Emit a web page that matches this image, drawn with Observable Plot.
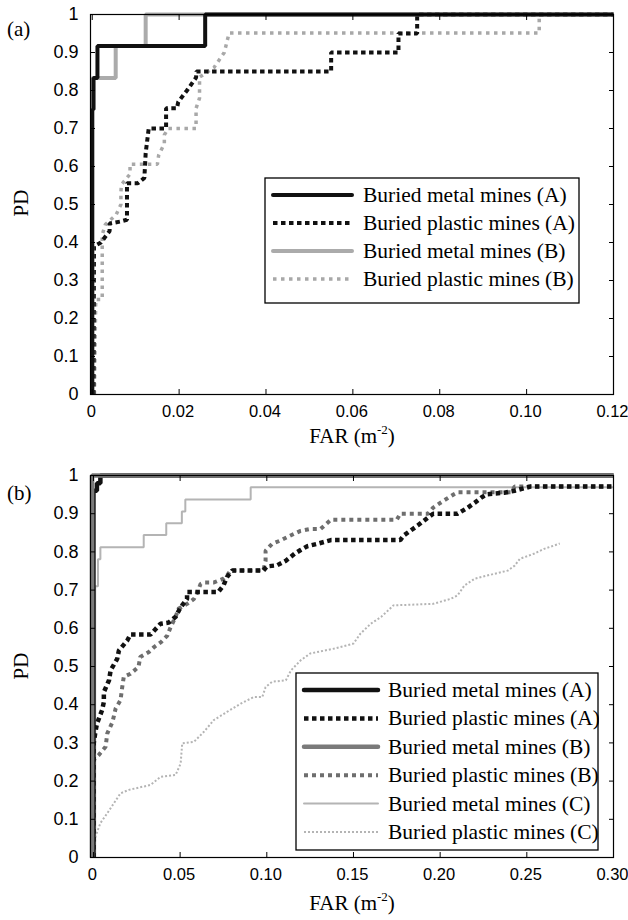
<!DOCTYPE html>
<html>
<head>
<meta charset="utf-8">
<script src="https://cdn.jsdelivr.net/npm/d3@7"></script>
<script src="https://cdn.jsdelivr.net/npm/@observablehq/plot@0.6"></script>
<style>
  html, body { margin:0; padding:0; background:#fff; }
  #wrap { position:relative; width:628px; height:920px; background:#fff; overflow:hidden; }
  .panel { position:absolute; left:0; }
  .tag { position:absolute; font-family:"Liberation Serif","Times New Roman",serif; font-size:21px; color:#000; }
  .xlab { position:absolute; font-family:"Liberation Serif","Times New Roman",serif; font-size:21px; color:#000; white-space:nowrap; transform:translateX(-50%); }
  .xlab sup { font-size:13px; vertical-align:9px; line-height:0; }
  .ylab { position:absolute; font-family:"Liberation Serif","Times New Roman",serif; font-size:21px; color:#000; transform:translate(-50%,-50%) rotate(-90deg); white-space:nowrap; }
  .legend { position:absolute; }
</style>
</head>
<body>
<div id="wrap">
  <div id="pa" class="panel" style="top:0"></div>
  <div id="pb" class="panel" style="top:455px"></div>
</div>
<script>
// ---------------- Panel (a) data ----------------
const aXTicks = [0, 0.02, 0.04, 0.06, 0.08, 0.10, 0.12];
const aXLabels = ["0", "0.02", "0.04", "0.06", "0.08", "0.10", "0.12"];
const yTicks = [0, 0.1, 0.2, 0.3, 0.4, 0.5, 0.6, 0.7, 0.8, 0.9, 1];
const yLabels = ["0", "0.1", "0.2", "0.3", "0.4", "0.5", "0.6", "0.7", "0.8", "0.9", "1"];

const aSeriesNames = ["Buried metal mines (A)", "Buried plastic mines (A)", "Buried metal mines (B)", "Buried plastic mines (B)"];

const aMetalA = [[0,0],[0,0.75],[0.0003,0.75],[0.0003,0.833],[0.0012,0.833],[0.0012,0.917],[0.026,0.917],[0.026,1],[0.12,1]];
const aMetalB = [[0,0],[0,0.833],[0.0054,0.833],[0.0054,0.917],[0.0123,0.917],[0.0123,1],[0.12,1]];
const aPlasticA = [[0.0003,0],[0.0004,0.39],[0.002,0.40],[0.004,0.43],[0.004,0.45],[0.0064,0.455],[0.008,0.46],[0.008,0.556],
  [0.0105,0.556],[0.012,0.57],[0.0123,0.635],[0.013,0.70],[0.017,0.70],[0.017,0.753],[0.0195,0.753],[0.0198,0.77],
  [0.0218,0.80],[0.0239,0.834],[0.024,0.85],[0.055,0.85],[0.055,0.90],[0.0705,0.90],[0.0705,0.95],[0.0748,0.95],[0.0748,1],[0.12,1]];
const aPlasticB = [[0.0005,0],[0.0008,0.25],[0.0023,0.25],[0.0023,0.42],[0.003,0.447],[0.0055,0.473],[0.0066,0.50],[0.0066,0.53],
  [0.0067,0.552],[0.0087,0.58],[0.0087,0.606],[0.015,0.606],[0.0153,0.63],[0.0166,0.66],[0.0166,0.683],[0.0175,0.70],
  [0.0239,0.70],[0.0239,0.753],[0.0247,0.78],[0.0247,0.835],[0.028,0.86],[0.0304,0.90],[0.0315,0.951],[0.1029,0.951],[0.1029,1],[0.12,1]];

// ---------------- Panel (b) data ----------------
const bXTicks = [0, 0.05, 0.10, 0.15, 0.20, 0.25, 0.30];
const bXLabels = ["0", "0.05", "0.10", "0.15", "0.20", "0.25", "0.30"];

const bSeriesNames = ["Buried metal mines (A)", "Buried plastic mines (A)", "Buried metal mines (B)", "Buried plastic mines (B)", "Buried metal mines (C)", "Buried plastic mines (C)"];

const bMetalA = [[0,0],[0,0.96],[0.002,0.96],[0.002,0.98],[0.004,0.98],[0.004,1],[0.3,1]];
const bMetalB = [[-0.0008,0],[-0.0008,1],[0.3,1]];
const bMetalC = [[0.001,0],[0.001,0.71],[0.0026,0.71],[0.0026,0.781],[0.004,0.781],[0.004,0.8125],[0.029,0.8125],[0.029,0.844],
  [0.042,0.844],[0.042,0.875],[0.051,0.875],[0.051,0.906],[0.053,0.906],[0.053,0.9375],[0.0907,0.9375],[0.0907,0.969],[0.3,0.969]];
const bPlasticA = [[0,0],[0,0.273],[0.0002,0.30],[0.001,0.325],[0.002,0.35],[0.005,0.386],[0.006,0.407],[0.006,0.433],[0.009,0.464],
  [0.0099,0.49],[0.0137,0.52],[0.0147,0.542],[0.0195,0.568],[0.0214,0.584],[0.033,0.584],[0.0387,0.612],[0.0435,0.615],
  [0.0474,0.63],[0.0503,0.655],[0.054,0.677],[0.054,0.695],[0.061,0.695],[0.072,0.695],[0.075,0.712],[0.077,0.734],[0.080,0.751],
  [0.098,0.751],[0.100,0.762],[0.106,0.765],[0.111,0.777],[0.116,0.795],[0.1195,0.805],[0.1234,0.815],[0.129,0.821],[0.137,0.831],
  [0.177,0.831],[0.179,0.843],[0.187,0.869],[0.193,0.89],[0.196,0.90],[0.210,0.90],[0.216,0.916],[0.220,0.929],[0.224,0.943],
  [0.227,0.951],[0.237,0.955],[0.243,0.96],[0.252,0.971],[0.3,0.971]];
const bPlasticB = [[0,0],[0,0.255],[0.003,0.268],[0.007,0.29],[0.008,0.325],[0.011,0.355],[0.0128,0.39],[0.0156,0.412],[0.0166,0.446],
  [0.0175,0.473],[0.0214,0.481],[0.026,0.499],[0.027,0.525],[0.032,0.538],[0.035,0.551],[0.039,0.564],[0.0426,0.581],[0.0445,0.603],
  [0.0474,0.63],[0.049,0.651],[0.054,0.664],[0.058,0.677],[0.060,0.695],[0.0618,0.716],[0.0637,0.72],[0.0695,0.72],[0.075,0.73],
  [0.077,0.738],[0.079,0.751],[0.098,0.751],[0.0993,0.777],[0.0993,0.803],[0.103,0.821],[0.108,0.83],[0.1137,0.843],[0.1195,0.855],
  [0.125,0.86],[0.131,0.86],[0.137,0.884],[0.175,0.884],[0.177,0.90],[0.193,0.90],[0.196,0.916],[0.202,0.934],[0.208,0.951],
  [0.21,0.956],[0.241,0.956],[0.243,0.971],[0.3,0.971]];
const bPlasticC = [[0,0],[0.0012,0.055],[0.004,0.09],[0.008,0.116],[0.0118,0.142],[0.0156,0.168],[0.0204,0.177],[0.033,0.19],
  [0.0387,0.211],[0.0474,0.216],[0.0503,0.246],[0.0512,0.299],[0.058,0.303],[0.0637,0.329],[0.0695,0.36],[0.077,0.381],[0.085,0.403],
  [0.0925,0.42],[0.0974,0.42],[0.0993,0.446],[0.103,0.46],[0.111,0.464],[0.114,0.49],[0.1195,0.516],[0.125,0.534],[0.139,0.547],
  [0.15,0.56],[0.154,0.586],[0.16,0.612],[0.166,0.63],[0.171,0.651],[0.173,0.66],[0.196,0.664],[0.206,0.677],[0.21,0.686],
  [0.214,0.712],[0.22,0.73],[0.227,0.738],[0.239,0.751],[0.243,0.764],[0.246,0.782],[0.254,0.795],[0.26,0.808],[0.266,0.817],[0.269,0.822]];

// ---------------- styles ----------------
const aStyles = [
  {stroke:"#111", strokeWidth:4, dash:null},
  {stroke:"#111", strokeWidth:4, dash:"4.5,3.5"},
  {stroke:"#ababab", strokeWidth:4, dash:null},
  {stroke:"#a8a8a8", strokeWidth:3.5, dash:"3.5,4.5"}
];
const bStyles = [
  {stroke:"#111", strokeWidth:4.5, dash:null},
  {stroke:"#111", strokeWidth:4.5, dash:"4.5,3.5"},
  {stroke:"#7a7a7a", strokeWidth:4.5, dash:null},
  {stroke:"#6e6e6e", strokeWidth:4, dash:"4,4"},
  {stroke:"#b4b4b4", strokeWidth:2, dash:null},
  {stroke:"#b4b4b4", strokeWidth:2, dash:"2,2"}
];

function seriesLine(data, s) {
  return Plot.line(data, {stroke: s.stroke, strokeWidth: s.strokeWidth, strokeDasharray: s.dash, strokeLinecap: "butt", strokeLinejoin: "miter"});
}

function axes(xTicks, xLabels) {
  const xl = new Map(xTicks.map((d, i) => [d, xLabels[i]]));
  const yl = new Map(yTicks.map((d, i) => [d, yLabels[i]]));
  return [
    Plot.axisX(xTicks, {anchor: "bottom", tickSize: 0, tickPadding: 11, fontSize: 16.5, dx: -1, tickFormat: d => xl.get(d), label: null}),
    Plot.axisX(xTicks, {anchor: "bottom", tickSize: -5, tickFormat: () => "", label: null}),
    Plot.axisX(xTicks, {anchor: "top", tickSize: -5, tickFormat: () => "", label: null}),
    Plot.axisY(yTicks, {anchor: "left", tickSize: 0, tickPadding: 12, fontSize: 18, tickFormat: d => yl.get(d), label: null}),
    Plot.axisY(yTicks, {anchor: "left", tickSize: -5, tickFormat: () => "", label: null}),
    Plot.axisY(yTicks, {anchor: "right", tickSize: -5, tickFormat: () => "", label: null})
  ];
}

const commonStyle = {fontFamily: "'Liberation Sans', Arial, sans-serif", fontSize: "17px", color: "#000", background: "transparent", overflow: "visible"};

const chartA = Plot.plot({
  width: 628, height: 455,
  marginLeft: 90, marginRight: 15, marginTop: 14, marginBottom: 61,
  x: {domain: [-0.0004, 0.12]},
  y: {domain: [0, 1]},
  style: commonStyle,
  marks: [
    seriesLine(aPlasticB, aStyles[3]),
    seriesLine(aPlasticA, aStyles[1]),
    seriesLine(aMetalB, aStyles[2]),
    seriesLine(aMetalA, aStyles[0]),
    Plot.frame({stroke: "#000", strokeWidth: 1.2}),
    ...axes(aXTicks, aXLabels)
  ]
});
document.getElementById("pa").appendChild(chartA);

const chartB = Plot.plot({
  width: 628, height: 465,
  marginLeft: 90, marginRight: 15, marginTop: 20, marginBottom: 63,
  x: {domain: [-0.0017, 0.3]},
  y: {domain: [0, 1]},
  style: commonStyle,
  marks: [
    seriesLine(bMetalC, bStyles[4]),
    seriesLine(bPlasticC, bStyles[5]),
    seriesLine(bPlasticB, bStyles[3]),
    seriesLine(bPlasticA, bStyles[1]),
    seriesLine(bMetalA, bStyles[0]),
    seriesLine(bMetalB, bStyles[2]),
    Plot.frame({stroke: "#000", strokeWidth: 1.2}),
    ...axes(bXTicks, bXLabels)
  ]
});
document.getElementById("pb").appendChild(chartB);

// ---------------- overlays: labels and legends ----------------
const wrap = document.getElementById("wrap");
function addHTML(cls, html, style) {
  const d = document.createElement("div");
  d.className = cls; d.innerHTML = html;
  Object.assign(d.style, style);
  wrap.appendChild(d);
  return d;
}
addHTML("tag", "(a)", {left: "7px", top: "17px"});
addHTML("tag", "(b)", {left: "7px", top: "481px"});
addHTML("xlab", "FAR (m<sup>-2</sup>)", {left: "352px", top: "424px"});
addHTML("xlab", "FAR (m<sup>-2</sup>)", {left: "352px", top: "891px"});
addHTML("ylab", "PD", {left: "21px", top: "203px"});
addHTML("ylab", "PD", {left: "21px", top: "666px"});

function legend(names, styles, box) {
  const svg = d3.create("svg")
    .attr("class", "legend")
    .attr("width", box.w + 2).attr("height", box.h + 2)
    .style("left", (box.x - 1) + "px").style("top", (box.y - 1) + "px");
  svg.append("rect").attr("x", 1).attr("y", 1).attr("width", box.w).attr("height", box.h)
    .attr("fill", "#fff").attr("stroke", "#000").attr("stroke-width", 1.3);
  names.forEach((name, i) => {
    const s = styles[i];
    const cy = 1 + box.row0 + i * box.step;
    svg.append("line").attr("x1", 1 + box.lx1).attr("x2", 1 + box.lx2).attr("y1", cy).attr("y2", cy)
      .attr("stroke", s.stroke).attr("stroke-width", s.strokeWidth)
      .attr("stroke-dasharray", s.dash).attr("stroke-linecap", s.dash ? "butt" : "round");
    svg.append("text").attr("x", 1 + box.tx).attr("y", cy).attr("dy", "0.33em")
      .attr("font-family", "'Liberation Serif', 'Times New Roman', serif").attr("font-size", box.fs)
      .attr("fill", "#000").text(name);
  });
  wrap.appendChild(svg.node());
}
legend(aSeriesNames, aStyles, {x: 265, y: 178, w: 314, h: 125, row0: 17, step: 28, lx1: 8, lx2: 87, tx: 98, fs: 21.5});
legend(bSeriesNames, bStyles, {x: 296, y: 673, w: 302, h: 177, row0: 17, step: 28.4, lx1: 8, lx2: 82, tx: 92, fs: 21.5});
</script>
</body>
</html>
